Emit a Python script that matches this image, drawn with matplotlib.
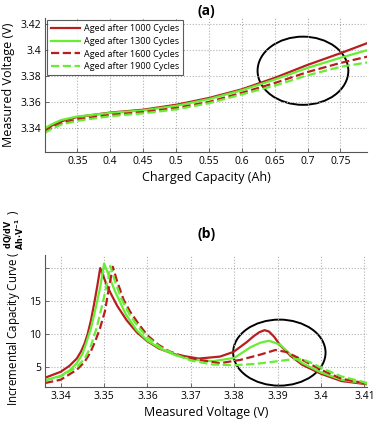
import matplotlib
matplotlib.use("Agg")
import matplotlib.pyplot as plt
from matplotlib.patches import Ellipse

plt.rcParams['font.family'] = ['Open Sans', 'DejaVu Sans']
plt.rcParams['mathtext.fontset'] = 'dejavusans'

# (a) voltage vs charged capacity
cap = [0.300, 0.310, 0.325, 0.350, 0.400, 0.450, 0.500, 0.550, 0.600, 0.650, 0.700, 0.750, 0.792]
v_1000 = [3.3385, 3.3415, 3.3450, 3.3484, 3.3518, 3.3540, 3.3578, 3.3630, 3.3697, 3.3785, 3.3885, 3.3975, 3.4055]
v_1300 = [3.3395, 3.3425, 3.3460, 3.3488, 3.3515, 3.3535, 3.3570, 3.3622, 3.3690, 3.3772, 3.3862, 3.3940, 3.4000]
v_1600 = [3.3370, 3.3400, 3.3435, 3.3466, 3.3500, 3.3522, 3.3553, 3.3600, 3.3670, 3.3745, 3.3830, 3.3900, 3.3950]
v_1900 = [3.3360, 3.3390, 3.3425, 3.3455, 3.3490, 3.3512, 3.3542, 3.3590, 3.3658, 3.3725, 3.3805, 3.3870, 3.3905]

# (b) incremental capacity vs voltage
u_1000 = [3.3364, 3.3400, 3.3420, 3.3437, 3.3447, 3.3455, 3.3462, 3.3470, 3.3477, 3.3484, 3.3491,
          3.3497, 3.3505, 3.3515, 3.3530, 3.3552, 3.3575, 3.3600, 3.3627, 3.3665, 3.3718, 3.3767,
          3.3798, 3.3829, 3.3845, 3.3858, 3.3870, 3.3880, 3.3892, 3.3906, 3.3930, 3.3957, 3.4000,
          3.4047, 3.4107]
ic_1000 = [3.4, 4.3, 5.2, 6.3, 7.4, 8.6, 10.0, 12.2, 14.6, 17.2, 20.0,
           19.0, 17.6, 16.2, 14.3, 12.1, 10.3, 8.9, 7.8, 6.9, 6.3, 6.6,
           7.3, 8.8, 9.7, 10.3, 10.6, 10.4, 9.6, 8.3, 6.7, 5.35, 4.0,
           2.9, 2.4]
u_1300 = [3.3364, 3.3400, 3.3420, 3.3437, 3.3450, 3.3460, 3.3470, 3.3479, 3.3491, 3.3500, 3.3510,
          3.3525, 3.3550, 3.3575, 3.3600, 3.3630, 3.3665, 3.3700, 3.3750, 3.3800, 3.3837, 3.3860,
          3.3880, 3.3906, 3.3930, 3.3957, 3.4000, 3.4047, 3.4107]
ic_1300 = [3.0, 3.7, 4.5, 5.6, 7.0, 8.9, 11.0, 13.5, 17.1, 20.7, 19.0,
           16.5, 13.0, 10.6, 9.0, 7.8, 6.8, 6.2, 5.9, 6.4, 8.0, 8.7,
           9.0, 8.4, 6.9, 5.6, 4.2, 3.1, 2.5]
u_1600 = [3.3364, 3.3400, 3.3437, 3.3455, 3.3468, 3.3480, 3.3491, 3.3502, 3.3510, 3.3520, 3.3530,
          3.3545, 3.3560, 3.3580, 3.3600, 3.3625, 3.3650, 3.3680, 3.3720, 3.3767, 3.3814, 3.3860,
          3.3895, 3.3920, 3.3957, 3.4000, 3.4047, 3.4107]
ic_1600 = [2.6, 3.1, 4.6, 5.8, 7.2, 9.0, 11.0, 13.5, 16.6, 20.2, 18.0,
           15.2, 13.4, 11.5, 9.8, 8.4, 7.4, 6.7, 6.1, 5.6, 6.1, 6.9,
           7.6, 7.3, 6.1, 4.6, 3.25, 2.5]
u_1900 = [3.3364, 3.3400, 3.3437, 3.3455, 3.3468, 3.3483, 3.3498, 3.3510, 3.3514, 3.3525, 3.3540,
          3.3560, 3.3580, 3.3600, 3.3630, 3.3665, 3.3700, 3.3750, 3.3800, 3.3850, 3.3900, 3.3935,
          3.3957, 3.3980, 3.4000, 3.4047, 3.4107]
ic_1900 = [3.0, 3.6, 5.0, 6.3, 7.9, 11.0, 15.1, 18.6, 20.35, 18.0, 15.3,
           12.8, 11.0, 9.5, 8.0, 6.9, 6.0, 5.4, 5.3, 5.5, 5.9, 6.2,
           6.2, 5.6, 4.9, 3.6, 2.6]

labels = ['Aged after 1000 Cycles', 'Aged after 1300 Cycles',
          'Aged after 1600 Cycles', 'Aged after 1900 Cycles']
colors = ['#b81e1e', '#66ee33', '#b81e1e', '#66ee33']
styles = ['-', '-', '--', '--']

top_xticks = [0.35, 0.4, 0.45, 0.5, 0.55, 0.6, 0.65, 0.7, 0.75]
top_xlabels = ['0.35', '0.4', '0.45', '0.5', '0.55', '0.6', '0.65', '0.7', '0.75']
top_yticks = [3.34, 3.36, 3.38, 3.4, 3.42]
top_ylabels = ['3.34', '3.36', '3.38', '3.4', '3.42']
bot_xticks = [3.34, 3.35, 3.36, 3.37, 3.38, 3.39, 3.4, 3.41]
bot_xlabels = ['3.34', '3.35', '3.36', '3.37', '3.38', '3.39', '3.4', '3.41']
bot_yticks = [5, 10, 15, 20]
bot_ylabels = ['5', '10', '15', '']

fig = plt.figure(figsize=(3.73, 4.22), dpi=100)
ax1 = fig.add_axes([0.121, 0.640, 0.864, 0.317])
ax2 = fig.add_axes([0.121, 0.083, 0.864, 0.313])


def style_axes(ax):
    ax.grid(True, linestyle=':', color='#b0b0b0', linewidth=0.8)
    for s in ['top', 'right']:
        ax.spines[s].set_visible(False)
    for s in ['left', 'bottom']:
        ax.spines[s].set_color('#555555')
        ax.spines[s].set_linewidth(0.8)
    ax.tick_params(direction='in', length=3, width=0.6, color='#555555',
                   labelsize=7.5, pad=3)


# (a)
for y, lab, c, ls in zip([v_1000, v_1300, v_1600, v_1900], labels, colors, styles):
    ax1.plot(cap, y, color=c, linestyle=ls, linewidth=1.6, label=lab)
ax1.set_xlim(0.301, 0.791)
ax1.set_ylim(3.3215, 3.4245)
ax1.set_xticks(top_xticks, top_xlabels)
ax1.set_yticks(top_yticks, top_ylabels)
ax1.set_xlabel('Charged Capacity (Ah)', fontsize=9, labelpad=3)
ax1.set_ylabel('Measured Voltage (V)', fontsize=9, labelpad=4)
ax1.set_title('(a)', fontsize=10, fontweight='bold', pad=2)
style_axes(ax1)
leg = ax1.legend(loc='upper left', fontsize=6.5, frameon=True, fancybox=False,
                 handlelength=3.2, borderpad=0.4, labelspacing=0.42,
                 borderaxespad=0.25, handletextpad=0.5)
leg.get_frame().set_edgecolor('#333333')
leg.get_frame().set_linewidth(0.8)
ax1.add_patch(Ellipse((0.693, 3.384), 0.138, 0.0525, fill=False,
                      edgecolor='black', linewidth=1.4))

# (b)
for x, y, c, ls in zip([u_1000, u_1300, u_1600, u_1900],
                       [ic_1000, ic_1300, ic_1600, ic_1900], colors, styles):
    ax2.plot(x, y, color=c, linestyle=ls, linewidth=1.6)
ax2.set_xlim(3.3364, 3.4107)
ax2.set_ylim(2, 22)
ax2.set_xticks(bot_xticks, bot_xlabels)
ax2.set_yticks(bot_yticks, bot_ylabels)
ax2.set_xlabel('Measured Voltage (V)', fontsize=9, labelpad=3)
ax2.set_ylabel(r'Incremental Capacity Curve ( $\genfrac{}{}{0}{1}{\mathbf{dQ/dV}}{\mathbf{Ah{\cdot}V^{-1}}}$ )',
               fontsize=8.3)
ax2.yaxis.set_label_coords(-0.06, 0.6)
ax2.set_title('(b)', fontsize=10, fontweight='bold', pad=12)
style_axes(ax2)
ax2.add_patch(Ellipse((3.3904, 7.2), 0.0213, 10.0, fill=False,
                      edgecolor='black', linewidth=1.4, clip_on=False))

fig.savefig('out.png', dpi=100)
